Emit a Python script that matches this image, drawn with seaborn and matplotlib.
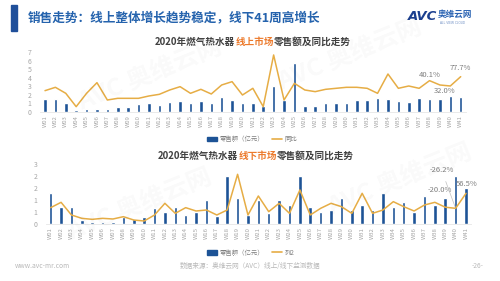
import numpy as np
import pandas as pd
import matplotlib
matplotlib.use("Agg")
import matplotlib.pyplot as plt
import matplotlib.patches as mpatches
import matplotlib.lines as mlines
import seaborn as sns

# ---------------- data ----------------
weeks = [f"W{i:02d}" for i in range(1, 42)]

online_sales = [1.52, 1.52, 1.0, 0.25, 0.4, 0.35, 0.4, 0.55, 0.55, 0.9,
                1.0, 0.8, 1.15, 1.3, 1.1, 1.25, 1.1, 1.75, 1.35, 1.0,
                1.1, 0.65, 3.05, 1.35, 5.7, 0.65, 0.7, 1.0, 1.1, 1.1,
                1.35, 1.35, 1.65, 1.5, 1.3, 1.15, 1.65, 1.5, 1.5, 1.85, 1.8]
online_yoy = [-7.7, 8.3, -20.4, -84.1, -20.4, 30.5, -52.3, -44.3, -44.3, -44.3,
              -33.1, -25.2, -4.5, 11.4, -20.4, -1.3, -23.6, 19.4, 35.3, -28.4,
              3.5, -84.1, 162.7, -52.3, 27.4, -4.5, -12.4, -1.3, 3.5, 8.3,
              8.3, 3.5, -20.4, 71.9, 3.5, 14.6, 3.5, 40.1, 19.4, 14.6, 59.2]

offline_sales = [1.28, 0.70, 0.70, 0.17, 0.07, 0.07, 0.07, 0.29, 0.20, 0.29,
                 0.68, 0.49, 0.70, 0.39, 0.49, 1.0, 0.35, 2.0, 1.1, 0.38,
                 1.0, 0.47, 1.0, 0.8, 2.01, 0.71, 0.49, 0.59, 1.1, 0.57,
                 0.8, 0.57, 1.28, 0.71, 0.91, 0.5, 1.19, 0.8, 1.1, 2.01, 1.49]
offline_yoy = [-22.5, 6.9, -63.0, -81.4, -86.9, -81.4, -85.0, -72.2, -90.6, -96.1,
               -63.0, 1.4, -53.8, -22.5, -40.9, -35.4, -63.0, -35.4, 161.3, -63.0,
               41.8, -44.6, 1.4, -53.8, 74.9, -63.0, -26.2, 1.4, -17.0, -53.8,
               56.5, -53.8, -35.4, 10.5, -17.0, -40.9, -7.8, 6.9, -20.0, -26.2, 56.5]

online_labels = ["40.1%", "32.0%", "77.7%"]
offline_labels = ["-20.0%", "-26.2%", "56.5%"]

main_title = "销售走势：线上整体增长趋势稳定，线下41周高增长"
legend_bar = "零售额（亿元）"
legend_line_top = "同比"
legend_line_bottom = "列2"
footer_left = "www.avc-mr.com"
footer_mid = "数据来源：奥维云网（AVC）线上/线下监测数据"
footer_right = "-26-"

# ---------------- style ----------------
sns.set_theme(style="white")
FONTS = ["Noto Sans CJK SC", "DejaVu Sans"]
plt.rcParams["font.family"] = FONTS

BLUE = "#1d5396"
TITLE_BLUE = "#2563ad"
GOLD = "#e6ad45"
ORANGE = "#ec7a2c"
GRAY = "#a6a6a6"
DARK = "#404040"

W, H = 500, 281
fig = plt.figure(figsize=(5, 2.81), dpi=100)
fig.patch.set_facecolor("white")


def fx(px):
    return px / W


def fy(py):
    return 1 - py / H


# left decorative bar
fig.patches.append(mpatches.Rectangle((fx(11), fy(31)), fx(6), 26 / H,
                                      transform=fig.transFigure, color="#1f4f9a",
                                      zorder=5))
fig.text(fx(28), fy(17.5), main_title, color=TITLE_BLUE, fontsize=9.1,
         fontweight="bold", va="center", ha="left")

# logo
fig.text(fx(408), fy(16), "AVC", color="#1b3f8f", fontsize=9.5, fontweight="bold",
         fontstyle="italic", va="center", ha="left", family="DejaVu Sans")
fig.text(fx(438), fy(14.5), "奥维云网", color="#2a63b3", fontsize=6.2,
         fontweight="bold", va="center", ha="left")
fig.text(fx(440), fy(22.5), "ALL VIEW CLOUD", color="#6f8fc4", fontsize=2.2,
         va="center", ha="left", family="DejaVu Sans")

# faint watermarks
for (wx, wy) in [(150, 75), (350, 55), (140, 205), (400, 180)]:
    fig.text(fx(wx), fy(wy), "AVC 奥维云网", color="#000000", alpha=0.025,
             fontsize=18, fontweight="bold", rotation=22, ha="center", va="center")


def draw_panel(left_px, right_px, bottom_px, top_px, sales, yoy, ymax,
               tick_vals, tick_labels, twin_lim):
    ax = fig.add_axes([fx(left_px), fy(bottom_px), fx(right_px - left_px),
                       (bottom_px - top_px) / H])
    df = pd.DataFrame({"week": weeks, "sales": sales})
    sns.barplot(data=df, x="week", y="sales", ax=ax, color=BLUE, width=0.34,
                saturation=1)
    ax.set_xlim(-0.5, len(weeks) - 0.5)
    ax.set_ylim(0, ymax)
    ax.set_yticks(tick_vals)
    ax.set_yticklabels(tick_labels)
    ax.set_xlabel("")
    ax.set_ylabel("")
    for s in ["top", "right", "left"]:
        ax.spines[s].set_visible(False)
    ax.spines["bottom"].set_color("#e6e6e6")
    ax.spines["bottom"].set_linewidth(0.6)
    ax.tick_params(axis="y", length=0, labelsize=5, labelcolor=GRAY, pad=6)
    ax.tick_params(axis="x", length=0, labelsize=4.3, labelcolor=GRAY,
                   rotation=90, pad=2)
    ax.set_facecolor("none")

    tw = ax.twinx()
    lf = pd.DataFrame({"x": np.arange(len(weeks)), "yoy": yoy})
    sns.lineplot(data=lf, x="x", y="yoy", ax=tw, color=GOLD, linewidth=1.1)
    tw.set_ylim(*twin_lim)
    tw.set_xlim(-0.5, len(weeks) - 0.5)
    tw.axis("off")
    return ax, tw


def title_line(cx, cy, parts):
    colors = [DARK, ORANGE, DARK]
    r = fig.canvas.get_renderer()
    texts = []
    widths = []
    for p, c in zip(parts, colors):
        t = fig.text(0, 0, p, fontsize=6.9, fontweight="bold", color=c,
                     va="center", ha="left")
        bb = t.get_window_extent(renderer=r)
        widths.append(bb.width)
        texts.append(t)
    total = sum(widths)
    x0 = cx - total / 2
    for t, wdt in zip(texts, widths):
        t.set_position((fx(x0), fy(cy)))
        x0 += wdt


# top panel
ax1, tw1 = draw_panel(39.8, 465.9, 112, 52.3, online_sales, online_yoy, 7,
                      list(range(8)), [str(i) for i in range(8)],
                      (-109.6, 175.5))
title_line(253, 41.5, ["2020年燃气热水器", "线上市场", "零售额及同比走势"])

pt = 0.72
ann_style = dict(fontsize=5.5, color="#7f7f7f", ha="center", va="center",
                 textcoords="offset points")
tw1.annotate(online_labels[0], xy=(37, online_yoy[37]),
             xytext=(0, 5.5 * pt), **ann_style)
tw1.annotate(online_labels[1], xy=(39, online_yoy[39]),
             xytext=(-6 * pt, -5 * pt), **ann_style)
tw1.annotate(online_labels[2], xy=(40, online_yoy[40]),
             xytext=(0, 8.5 * pt), **ann_style)

# bottom panel
btm_ticks = [0, 0.5, 1, 1.5, 2, 2.5]
btm_labels = [str(int(v + 0.5)) for v in btm_ticks]
ax2, tw2 = draw_panel(45.5, 471.2, 224, 161.9, offline_sales, offline_yoy, 2.6,
                      btm_ticks, btm_labels, (-112.6, 229.7))
title_line(256, 155.5, ["2020年燃气热水器", "线下市场", "零售额及同比走势"])

tw2.annotate(offline_labels[0], xy=(38, offline_yoy[38]),
             xytext=(-5 * pt, 17 * pt), **ann_style)
tw2.annotate(offline_labels[1], xy=(39, offline_yoy[39]),
             xytext=(-14 * pt, 38 * pt),
             arrowprops=dict(arrowstyle="-", color="#bfbfbf", lw=0.5,
                             shrinkA=3, shrinkB=1), **ann_style)
tw2.annotate(offline_labels[2], xy=(40, offline_yoy[40]),
             xytext=(1 * pt, 9 * pt), **ann_style)


def panel_legend(cy, line_label, x0):
    handles = [mpatches.Patch(color=BLUE, label=legend_bar),
               mlines.Line2D([], [], color=GOLD, lw=1.2, label=line_label)]
    fig.legend(handles=handles, loc="center left", bbox_to_anchor=(fx(x0), fy(cy)),
               ncol=2, frameon=False, fontsize=4.6, handlelength=1.6,
               handleheight=0.7, columnspacing=1.2, handletextpad=0.4,
               labelcolor="#7f7f7f", borderpad=0, borderaxespad=0)


panel_legend(139, legend_line_top, 207)
panel_legend(252.5, legend_line_bottom, 207)

fig.text(fx(15), fy(265.5), footer_left, fontsize=4.8, color="#b8b8b8",
         ha="left", va="center")
fig.text(fx(250), fy(265.5), footer_mid, fontsize=4.8, color="#b8b8b8",
         ha="center", va="center")
fig.text(fx(478), fy(265.5), footer_right, fontsize=4.8, color="#b8b8b8",
         ha="center", va="center")

fig.savefig("out.png", dpi=100)
